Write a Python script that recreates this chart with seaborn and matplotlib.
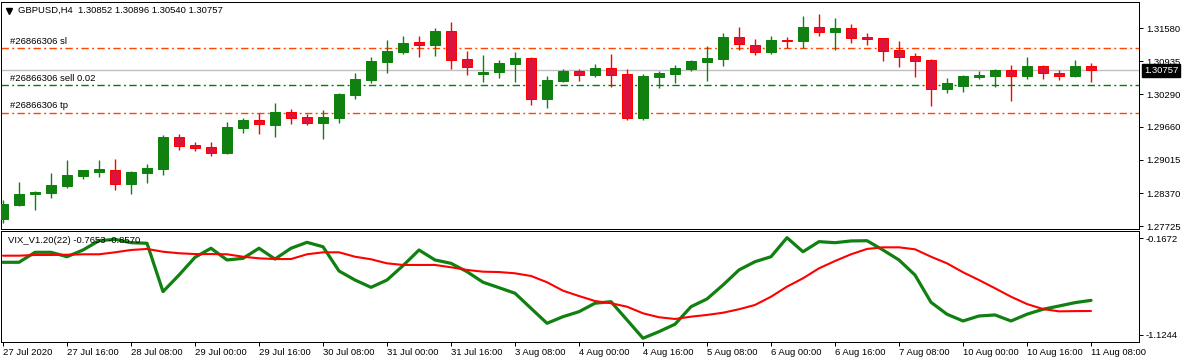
import matplotlib
matplotlib.use("Agg")
import matplotlib.pyplot as plt
import matplotlib.transforms as mtransforms
import seaborn as sns
import pandas as pd

# GBPUSD H4 bars, 27 Jul 2020 00:00 .. 11 Aug 2020 08:00
opens = [1.27863, 1.28136, 1.28351, 1.28370, 1.28507, 1.28702, 1.28780, 1.28827, 1.28546, 1.28760,
         1.28838, 1.29456, 1.29300, 1.29262, 1.29150, 1.29638, 1.29788, 1.29696, 1.29944, 1.29847,
         1.29735, 1.29841, 1.30281, 1.30568, 1.30919, 1.31120, 1.31309, 1.31256, 1.31524, 1.30978,
         1.30691, 1.30730, 1.30886, 1.30997, 1.30203, 1.30554, 1.30743, 1.30671, 1.30802, 1.30685,
         1.29833, 1.30632, 1.30691, 1.30788, 1.30925, 1.30983, 1.31406, 1.31250, 1.31120, 1.31348,
         1.31334, 1.31601, 1.31510, 1.31582, 1.31406, 1.31387, 1.31153, 1.31036, 1.30958, 1.30398,
         1.30457, 1.30632, 1.30652, 1.30763, 1.30652, 1.30841, 1.30705, 1.30652, 1.30852]
highs = [1.28228, 1.28579, 1.28409, 1.28760, 1.29008, 1.28820, 1.29008, 1.29028, 1.28794, 1.28930,
         1.29501, 1.29521, 1.29359, 1.29359, 1.29749, 1.29827, 1.29930, 1.30114, 1.30003, 1.29905,
         1.29983, 1.30309, 1.30705, 1.31017, 1.31348, 1.31426, 1.31426, 1.31582, 1.31699, 1.31134,
         1.31056, 1.30958, 1.31114, 1.31017, 1.30646, 1.30782, 1.30782, 1.30880, 1.31075, 1.30782,
         1.30685, 1.30743, 1.30860, 1.30958, 1.31231, 1.31484, 1.31601, 1.31367, 1.31426, 1.31406,
         1.31816, 1.31855, 1.31777, 1.31660, 1.31484, 1.31395, 1.31328, 1.31094, 1.30978, 1.30607,
         1.30665, 1.30743, 1.30782, 1.30860, 1.31017, 1.30860, 1.30763, 1.30958, 1.30896]
lows = [1.27780, 1.28111, 1.28033, 1.28267, 1.28468, 1.28638, 1.28682, 1.28423, 1.28345, 1.28565,
        1.28716, 1.29203, 1.29184, 1.29092, 1.29131, 1.29540, 1.29521, 1.29462, 1.29716, 1.29696,
        1.29423, 1.29735, 1.30192, 1.30510, 1.30710, 1.31081, 1.31022, 1.31042, 1.30788, 1.30671,
        1.30535, 1.30613, 1.30535, 1.30086, 1.30028, 1.30535, 1.30554, 1.30632, 1.30437, 1.29794,
        1.29794, 1.30418, 1.30515, 1.30749, 1.30554, 1.30847, 1.31159, 1.31061, 1.31081, 1.31192,
        1.31186, 1.31426, 1.31159, 1.31295, 1.31256, 1.30944, 1.30827, 1.30632, 1.30067, 1.30320,
        1.30340, 1.30593, 1.30437, 1.30164, 1.30593, 1.30593, 1.30574, 1.30632, 1.30540]
closes = [1.28150, 1.28359, 1.28384, 1.28521, 1.28716, 1.28813, 1.28833, 1.28546, 1.28774, 1.28852,
          1.29456, 1.29287, 1.29248, 1.29150, 1.29652, 1.29788, 1.29716, 1.29944, 1.29833, 1.29735,
          1.29847, 1.30295, 1.30582, 1.30933, 1.31134, 1.31290, 1.31256, 1.31524, 1.30964, 1.30827,
          1.30724, 1.30900, 1.30997, 1.30203, 1.30568, 1.30743, 1.30671, 1.30802, 1.30671, 1.29833,
          1.30646, 1.30705, 1.30802, 1.30938, 1.30997, 1.31406, 1.31264, 1.31120, 1.31348, 1.31334,
          1.31601, 1.31510, 1.31582, 1.31393, 1.31373, 1.31139, 1.31022, 1.30944, 1.30398, 1.30510,
          1.30646, 1.30665, 1.30763, 1.30652, 1.30841, 1.30710, 1.30652, 1.30841, 1.30757]

# VIX_V1.20(22) buffers
vix_fast = [-0.437, -0.437, -0.351, -0.351, -0.389, -0.331, -0.251, -0.239, -0.268, -0.273,
            -0.690, -0.547, -0.394, -0.316, -0.417, -0.403, -0.316, -0.409, -0.316, -0.265,
            -0.303, -0.512, -0.590, -0.653, -0.590, -0.466, -0.331, -0.417, -0.446, -0.518,
            -0.609, -0.656, -0.704, -0.834, -0.963, -0.906, -0.863, -0.790, -0.777, -0.934,
            -1.092, -1.035, -0.971, -0.820, -0.753, -0.633, -0.503, -0.432, -0.389, -0.225,
            -0.346, -0.259, -0.268, -0.253, -0.251, -0.331, -0.417, -0.547, -0.782, -0.885,
            -0.943, -0.900, -0.891, -0.943, -0.885, -0.842, -0.814, -0.785, -0.7653]
vix_slow = [-0.380, -0.380, -0.374, -0.374, -0.372, -0.368, -0.368, -0.351, -0.331, -0.322,
            -0.346, -0.359, -0.366, -0.366, -0.368, -0.389, -0.403, -0.409, -0.409, -0.368,
            -0.351, -0.351, -0.389, -0.411, -0.446, -0.460, -0.460, -0.460, -0.480, -0.503,
            -0.518, -0.521, -0.532, -0.555, -0.609, -0.682, -0.728, -0.771, -0.790, -0.820,
            -0.877, -0.911, -0.926, -0.906, -0.891, -0.872, -0.842, -0.805, -0.734, -0.647,
            -0.575, -0.489, -0.426, -0.368, -0.322, -0.308, -0.308, -0.325, -0.389, -0.446,
            -0.523, -0.590, -0.661, -0.734, -0.797, -0.840, -0.860, -0.858, -0.8570]

time_labels = ["27 Jul 2020", "27 Jul 16:00", "28 Jul 08:00", "29 Jul 00:00", "29 Jul 16:00",
               "30 Jul 08:00", "31 Jul 00:00", "31 Jul 16:00", "3 Aug 08:00", "4 Aug 00:00",
               "4 Aug 16:00", "5 Aug 08:00", "6 Aug 00:00", "6 Aug 16:00", "7 Aug 08:00",
               "10 Aug 00:00", "10 Aug 16:00", "11 Aug 08:00"]
price_ticks = [1.31580, 1.30935, 1.30290, 1.29660, 1.29015, 1.28370, 1.27725]
sl_price = 1.31186
sell_price = 1.30465
tp_price = 1.29938
bid_price = 1.30757
vix_max, vix_min = -0.1672, -1.1244

sns.set_style("white")
plt.rcParams["font.family"] = ["Liberation Sans", "DejaVu Sans"]
plt.rcParams["lines.scale_dashes"] = False
fs = 6.8

bars = pd.DataFrame({"open": opens, "high": highs, "low": lows, "close": closes})
bars["i"] = range(len(bars))
bars["up"] = bars["close"] >= bars["open"]

W, H = 1185, 364
fig = plt.figure(figsize=(W / 100, H / 100), dpi=100)
ax = fig.add_axes([1 / W, 1 - 229 / H, 1138 / W, 227 / H])
ax2 = fig.add_axes([1 / W, 1 - 342 / H, 1138 / W, 111 / H])

green = "#108010"
red_edge = "#ff0000"
red_fill = "#dc143c"
orange = "#ff4500"
px = 0.72

# candles
edge = bars["up"].map({True: green, False: red_edge})
fill = bars["up"].map({True: green, False: red_fill})
ax.vlines(bars["i"], bars["low"], bars["high"], colors=edge, lw=1.0, zorder=2)
body_lo = bars[["open", "close"]].min(axis=1)
body_h = (bars["close"] - bars["open"]).abs()
ax.bar(bars["i"], body_h, bottom=body_lo, width=0.66, color=fill, edgecolor=edge,
       linewidth=px, zorder=3)

# order lines
dash = (0, (5.3, 2.4, 1.4, 2.4))
ax.axhline(sl_price, color=orange, lw=1.0, ls=dash, zorder=1)
ax.axhline(tp_price, color=orange, lw=1.0, ls=dash, zorder=1)
ax.axhline(sell_price, color="#008000", lw=1.0, ls=dash, zorder=1)
ax.axhline(bid_price, color="#c0c0c0", lw=1.0, zorder=1)

blend = mtransforms.blended_transform_factory(ax.transAxes, ax.transData)
for price, txt in [(sl_price, "#26866306 sl"), (sell_price, "#26866306 sell 0.02"),
                   (tp_price, "#26866306 tp")]:
    ax.annotate(txt, xy=(0, price), xycoords=blend, xytext=(6.5, 1.5),
                textcoords="offset points", ha="left", va="bottom", fontsize=fs, color="black")

ax.set_xlim(-0.125, 71)
ax.set_ylim(1.27670, 1.32090)
ax.set_xticks([])
ax.yaxis.tick_right()
ax.set_yticks(price_ticks)
ax.set_yticklabels([f"{p:.5f}" for p in price_ticks])
ax.tick_params(axis="y", right=True, length=3, width=px, pad=2, labelsize=fs, colors="black")

ax.annotate(f"{bid_price:.5f}", xy=(1, bid_price), xycoords=blend, xytext=(3.5, 0),
            textcoords="offset points", ha="left", va="center", fontsize=fs, color="white",
            bbox=dict(boxstyle="square,pad=0.18", facecolor="black", edgecolor="black"))

ax.plot([8 / 1138], [1 - 8.7 / 227], marker="v", color="black", markersize=4.2,
        transform=ax.transAxes, clip_on=False)
ax.text(17 / 1138, 1 - 8 / 227, "GBPUSD,H4  1.30852 1.30896 1.30540 1.30757",
        transform=ax.transAxes, ha="left", va="center", fontsize=fs, color="black")

# indicator window
ind = pd.DataFrame({"i": range(len(vix_fast)), "fast": vix_fast, "slow": vix_slow})
sns.lineplot(data=ind, x="i", y="fast", color="#108010", lw=2.3, ax=ax2)
sns.lineplot(data=ind, x="i", y="slow", color="#ff0000", lw=1.5, ax=ax2)
ax2.set_xlim(-0.125, 71)
ax2.set_ylim(vix_min, vix_max)
ax2.set_xlabel("")
ax2.set_ylabel("")
ax2.text(7 / 1138, 1 - 9.5 / 111, "VIX_V1.20(22) -0.7653 -0.8570", transform=ax2.transAxes,
         ha="left", va="center", fontsize=fs, color="black")

pad = (vix_max - vix_min) * 7 / 111
ax2.yaxis.tick_right()
ax2.set_yticks([vix_max - pad, vix_min + pad])
ax2.set_yticklabels([f"{vix_max:.4f}", f"{vix_min:.4f}"])
ax2.tick_params(axis="y", right=True, length=3, width=px, pad=2, labelsize=fs, colors="black")

ax2.set_xticks(list(range(0, len(vix_fast), 4)))
ax2.set_xticklabels(time_labels, ha="left")
ax2.tick_params(axis="x", bottom=True, length=3, width=px, pad=1.5, labelsize=fs, colors="black")

for a in (ax, ax2):
    for s in a.spines.values():
        s.set_color("black")
        s.set_linewidth(px)
    a.grid(False)

fig.savefig("out.png", dpi=100, facecolor="white")
